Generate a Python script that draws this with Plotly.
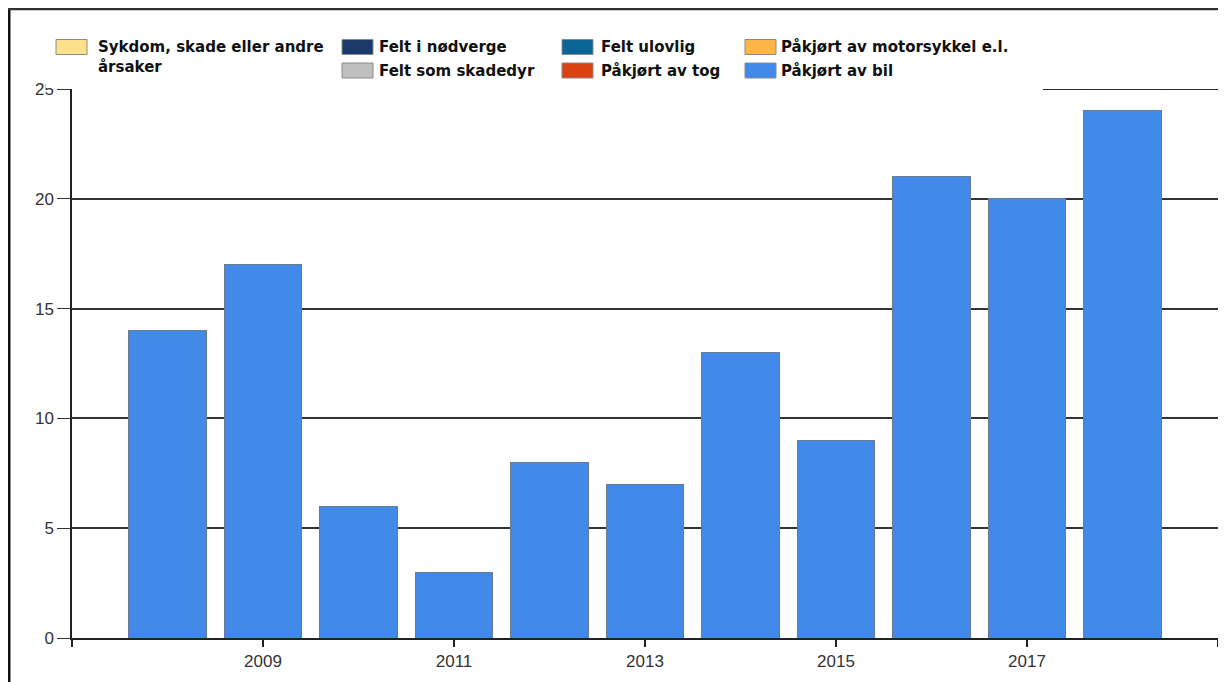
import plotly.graph_objects as go

years = [2008, 2009, 2010, 2011, 2012, 2013, 2014, 2015, 2016, 2017, 2018]
series_names = ["Sykdom, skade eller andre årsaker", "Felt i nødverge", "Felt som skadedyr",
                "Felt ulovlig", "Påkjørt av tog", "Påkjørt av motorsykkel e.l.", "Påkjørt av bil"]
series_colors = ["#FFE08C", "#1B3A6B", "#BFBFBF", "#0B6696", "#DA4212", "#FDB545", "#418AEA"]
series_values = {
    "Sykdom, skade eller andre årsaker": [0] * 11,
    "Felt i nødverge": [0] * 11,
    "Felt som skadedyr": [0] * 11,
    "Felt ulovlig": [0] * 11,
    "Påkjørt av tog": [0] * 11,
    "Påkjørt av motorsykkel e.l.": [0] * 11,
    "Påkjørt av bil": [14, 17, 6, 3, 8, 7, 13, 9, 21, 20, 24],
}
x_tickvals = [2007, 2009, 2011, 2013, 2015, 2017, 2019]
x_ticktext = ["", "2009", "2011", "2013", "2015", "2017", ""]
y_tickvals = [0, 5, 10, 15, 20, 25]

# page has an 8px body margin; work in page coordinates and convert
OFF = 8
W, H = 1217, 674
L, R, T, B = 72 - OFF, 1218 - OFF, 89 - OFF, 638 - OFF


def px(x):
    return (x - OFF - L) / (R - L)


def py(y):
    return (B - (y - OFF)) / (B - T)


fig = go.Figure()
for name, color in zip(series_names, series_colors):
    vals = series_values[name]
    fig.add_trace(go.Bar(
        x=years, y=vals, name=name, showlegend=False,
        marker=dict(color=color, line=dict(color="#6a7a92", width=1 if any(vals) else 0)),
    ))

shapes = []
# top gridline segment at 25 (right of legend)
shapes.append(dict(type="line", xref="paper", yref="y", x0=px(1043), x1=1, y0=25, y1=25,
                   line=dict(color="#2a2a2a", width=2), layer="above"))
# white box behind legend covering the top of the plot
shapes.append(dict(type="rect", xref="paper", yref="paper", x0=px(46), x1=px(1043),
                   y0=py(88), y1=py(10), fillcolor="white", line=dict(width=0), layer="above"))
# outer frame (left, top, right)
shapes.append(dict(type="line", xref="paper", yref="paper", x0=px(9), x1=px(9), y0=py(7), y1=py(700),
                   line=dict(color="#111", width=3), layer="above"))
shapes.append(dict(type="line", xref="paper", yref="paper", x0=px(8), x1=px(1225), y0=py(9), y1=py(9),
                   line=dict(color="#333", width=2.5), layer="above"))
shapes.append(dict(type="line", xref="paper", yref="paper", x0=px(1224), x1=px(1224), y0=py(8), y1=py(700),
                   line=dict(color="#111", width=1.5), layer="above"))

# manual legend (column-major layout as in the original)
legend_layout = [
    # (series index, swatch x0, text x, row)
    (0, 56, 96, 0),
    (1, 342, 377, 0),
    (2, 342, 377, 1),
    (3, 562, 599, 0),
    (4, 562, 599, 1),
    (5, 745, 779, 0),
    (6, 745, 779, 1),
]
row_y = [47, 70.5]
annotations = []
for idx, sx, tx, row in legend_layout:
    cy = row_y[row]
    shapes.append(dict(type="rect", xref="paper", yref="paper", x0=px(sx), x1=px(sx + 31),
                       y0=py(cy + 7.5), y1=py(cy - 7.5), fillcolor=series_colors[idx],
                       line=dict(color="#8a8a8a", width=1), layer="above"))
    name = series_names[idx]
    if idx == 0:
        text = "Sykdom, skade eller andre<br>årsaker"
        annotations.append(dict(xref="paper", yref="paper", x=px(tx), y=py(36), text=text,
                                showarrow=False, xanchor="left", yanchor="top", align="left",
                                font=dict(family="DejaVu Sans", size=15, color="#111", weight="bold")))
    else:
        annotations.append(dict(xref="paper", yref="paper", x=px(tx), y=py(cy), text=name,
                                showarrow=False, xanchor="left", yanchor="middle", align="left",
                                font=dict(family="DejaVu Sans", size=15, color="#111", weight="bold")))

fig.update_layout(
    width=W, height=H,
    margin=dict(l=L, r=W - R, t=T, b=H - B, pad=0),
    paper_bgcolor="white", plot_bgcolor="white",
    barmode="stack", bargap=0.19,
    showlegend=False,
    shapes=shapes, annotations=annotations,
    xaxis=dict(range=[2007, 2019], tickvals=x_tickvals, ticktext=x_ticktext,
               showline=True, linecolor="#222", linewidth=1.5, ticks="outside", ticklen=7,
               tickcolor="#222", tickwidth=1.5, showgrid=False, zeroline=False,
               tickfont=dict(family="Liberation Sans", size=17, color="#333")),
    yaxis=dict(range=[0, 25], tickvals=y_tickvals, showline=True, linecolor="#222", linewidth=1.5,
               ticks="outside", ticklen=13, tickcolor="#333", tickwidth=1.2,
               showgrid=True, gridcolor="#333", gridwidth=1.5, zeroline=False,
               tickfont=dict(family="Liberation Sans", size=17, color="#333")),
)

fig.write_html("out.html")
